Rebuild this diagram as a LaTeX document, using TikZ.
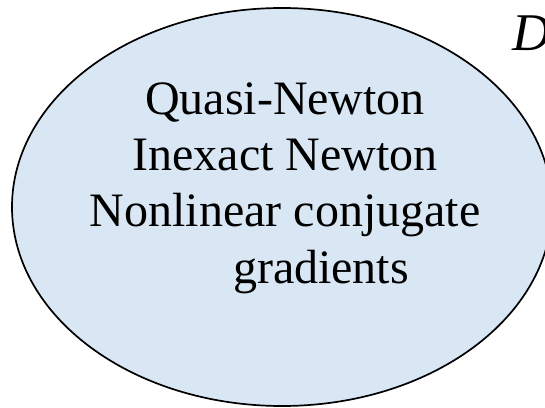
\documentclass[tikz,border=0pt]{standalone}
\usepackage{fontspec}
\setmainfont{Liberation Serif}
\usetikzlibrary{shapes.geometric}
\definecolor{setblue}{RGB}{217,231,244}
\begin{document}
\begin{tikzpicture}[x=1pt,y=1pt,
  setshape/.style={ellipse, draw=black, line width=1.7pt, fill=setblue, inner sep=0pt, minimum width=540pt, minimum height=398pt},
  methodtext/.style={anchor=base, font=\fontsize{48}{56}\selectfont, inner sep=0pt}]
\useasboundingbox (0,0) rectangle (545,407);
\node[setshape] (set) at (282,200) {};
\node[methodtext] (l1) at (285,292) {Quasi-Newton};
\node[methodtext] (l2) at (285,236) {Inexact Newton};
\node[methodtext] (l3) at (285,180) {Nonlinear conjugate};
\node[methodtext] (l4) at (321,124) {gradients};
\node[anchor=base west, inner sep=0pt, font=\fontsize{53}{60}\selectfont\itshape] (dlabel) at (512,356) {D};
\end{tikzpicture}
\end{document}
